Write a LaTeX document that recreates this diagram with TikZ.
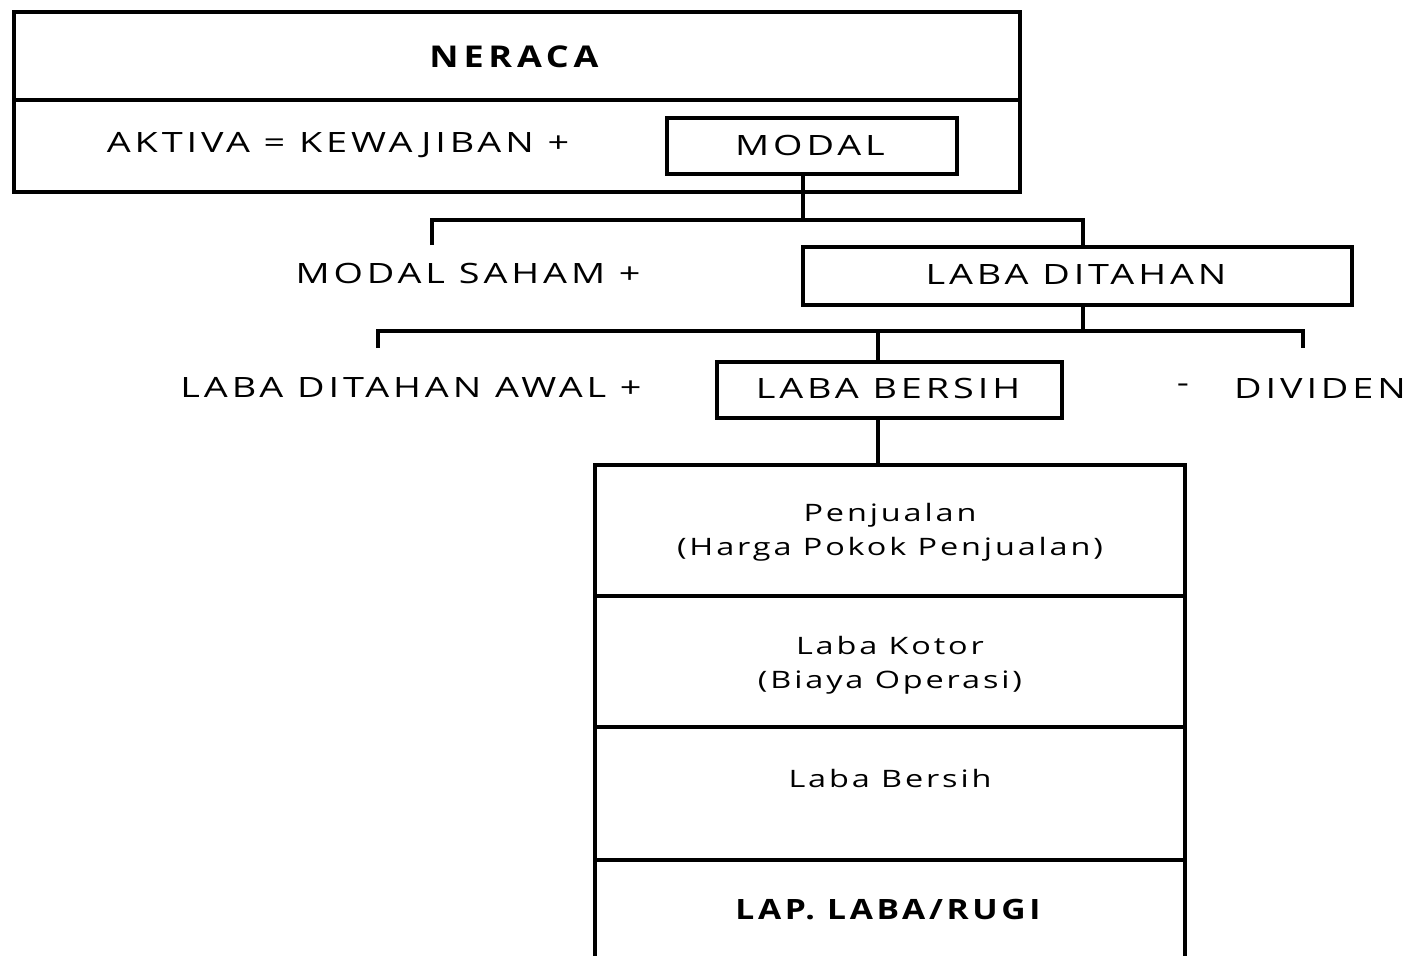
\documentclass[tikz,border=0pt]{standalone}
\usepackage{fontspec}
\setmainfont{Open Sans}
\newfontfamily\capsfont{Open Sans}[FakeStretch=1.35, LetterSpace=14]
\newfontfamily\capsbfont{Open Sans Bold}[FakeStretch=1.2, LetterSpace=16]
\newfontfamily\capsbfontb{Open Sans Bold}[FakeStretch=1.2, LetterSpace=13]
\newfontfamily\lowfont{Open Sans}[FakeStretch=1.35, LetterSpace=12]
\begin{document}
\begin{tikzpicture}[x=0.5pt,y=-0.5pt,line width=1.8pt,
  captxt/.style={font=\capsfont\fontsize{14}{16}\selectfont, inner sep=0pt},
  captxtb/.style={font=\capsbfont\fontsize{14}{16}\selectfont, inner sep=0pt},
  lowtxt/.style={font=\lowfont\fontsize{12}{17}\selectfont, inner sep=0pt, align=center},
  framebox/.style={draw, inner sep=0pt, anchor=north west}]
\useasboundingbox (0,0) rectangle (1408,955);
\clip (0,0) rectangle (1408,955);
% NERACA box
\node[framebox, minimum width=503pt, minimum height=90pt] (nbox) at (12,10) {};
\coordinate (nl) at (12,100);
\coordinate (nr) at (1018,100);
\draw (nl) -- (nr);
\node[captxtb, font=\capsbfont\fontsize{15}{17}\selectfont] (neraca) at (514,57) {NERACA};
\node[captxt] (aktiva) at (338,145) {AKTIVA = KEWAJIBAN +};
\node[framebox, minimum width=145pt, minimum height=28pt] (modal) at (665,116) {};
\node[captxt] (modalt) at (810,145) {MODAL};
% level 1
\coordinate (j1) at (803,220);
\coordinate (j1l) at (432,220);
\coordinate (j1r) at (1083,220);
\coordinate (sa) at (432,245);
\node[captxt] (saham) at (468,273) {MODAL SAHAM +};
\node[framebox, minimum width=274.5pt, minimum height=29pt] (ldt) at (801,245) {};
\node[captxt] (ldtt) at (1076,274) {LABA DITAHAN};
\draw (modal.south -| j1) -- (j1);
\draw (sa) -- (j1l) -- (j1r) -- (ldt.north -| j1r);
% level 2
\coordinate (j2c) at (1083,331);
\coordinate (j2l) at (378,331);
\coordinate (j2r) at (1303,331);
\coordinate (j2m) at (878,331);
\coordinate (aw) at (378,348);
\coordinate (dv) at (1303,348);
\draw (ldt.south -| j2c) -- (j2c);
\draw (aw) -- (j2l) -- (j2r) -- (dv);
\node[captxt] (awal) at (411,387) {LABA DITAHAN AWAL +};
\node[framebox, minimum width=172.5pt, minimum height=28pt] (lb) at (715,360) {};
\node[captxt] (lbt) at (888,388) {LABA BERSIH};
\node[captxt] (minus) at (1183,388) {-};
\node[captxt] (dividen) at (1320,388) {DIVIDEN};
\draw (j2m) -- (lb.north -| j2m);
% bottom box
\node[framebox, minimum width=295pt, minimum height=300pt] (lr) at (593,463) {};
\draw (lb.south -| j2m) -- (lr.north -| j2m);
\coordinate (d1l) at (593,596); \coordinate (d1r) at (1183,596);
\coordinate (d2l) at (593,727); \coordinate (d2r) at (1183,727);
\coordinate (d3l) at (593,860); \coordinate (d3r) at (1183,860);
\draw (d1l) -- (d1r);
\draw (d2l) -- (d2r);
\draw (d3l) -- (d3r);
\node[lowtxt] (penj) at (890,532) {Penjualan\\(Harga Pokok Penjualan)};
\node[lowtxt] (kotor) at (890,665) {Laba Kotor\\(Biaya Operasi)};
\node[lowtxt] (bersih) at (890,778) {Laba Bersih};
\node[captxtb, font=\capsbfontb\fontsize{14}{16}\selectfont] (lap) at (888,910) {LAP. LABA/RUGI};
\end{tikzpicture}
\end{document}
